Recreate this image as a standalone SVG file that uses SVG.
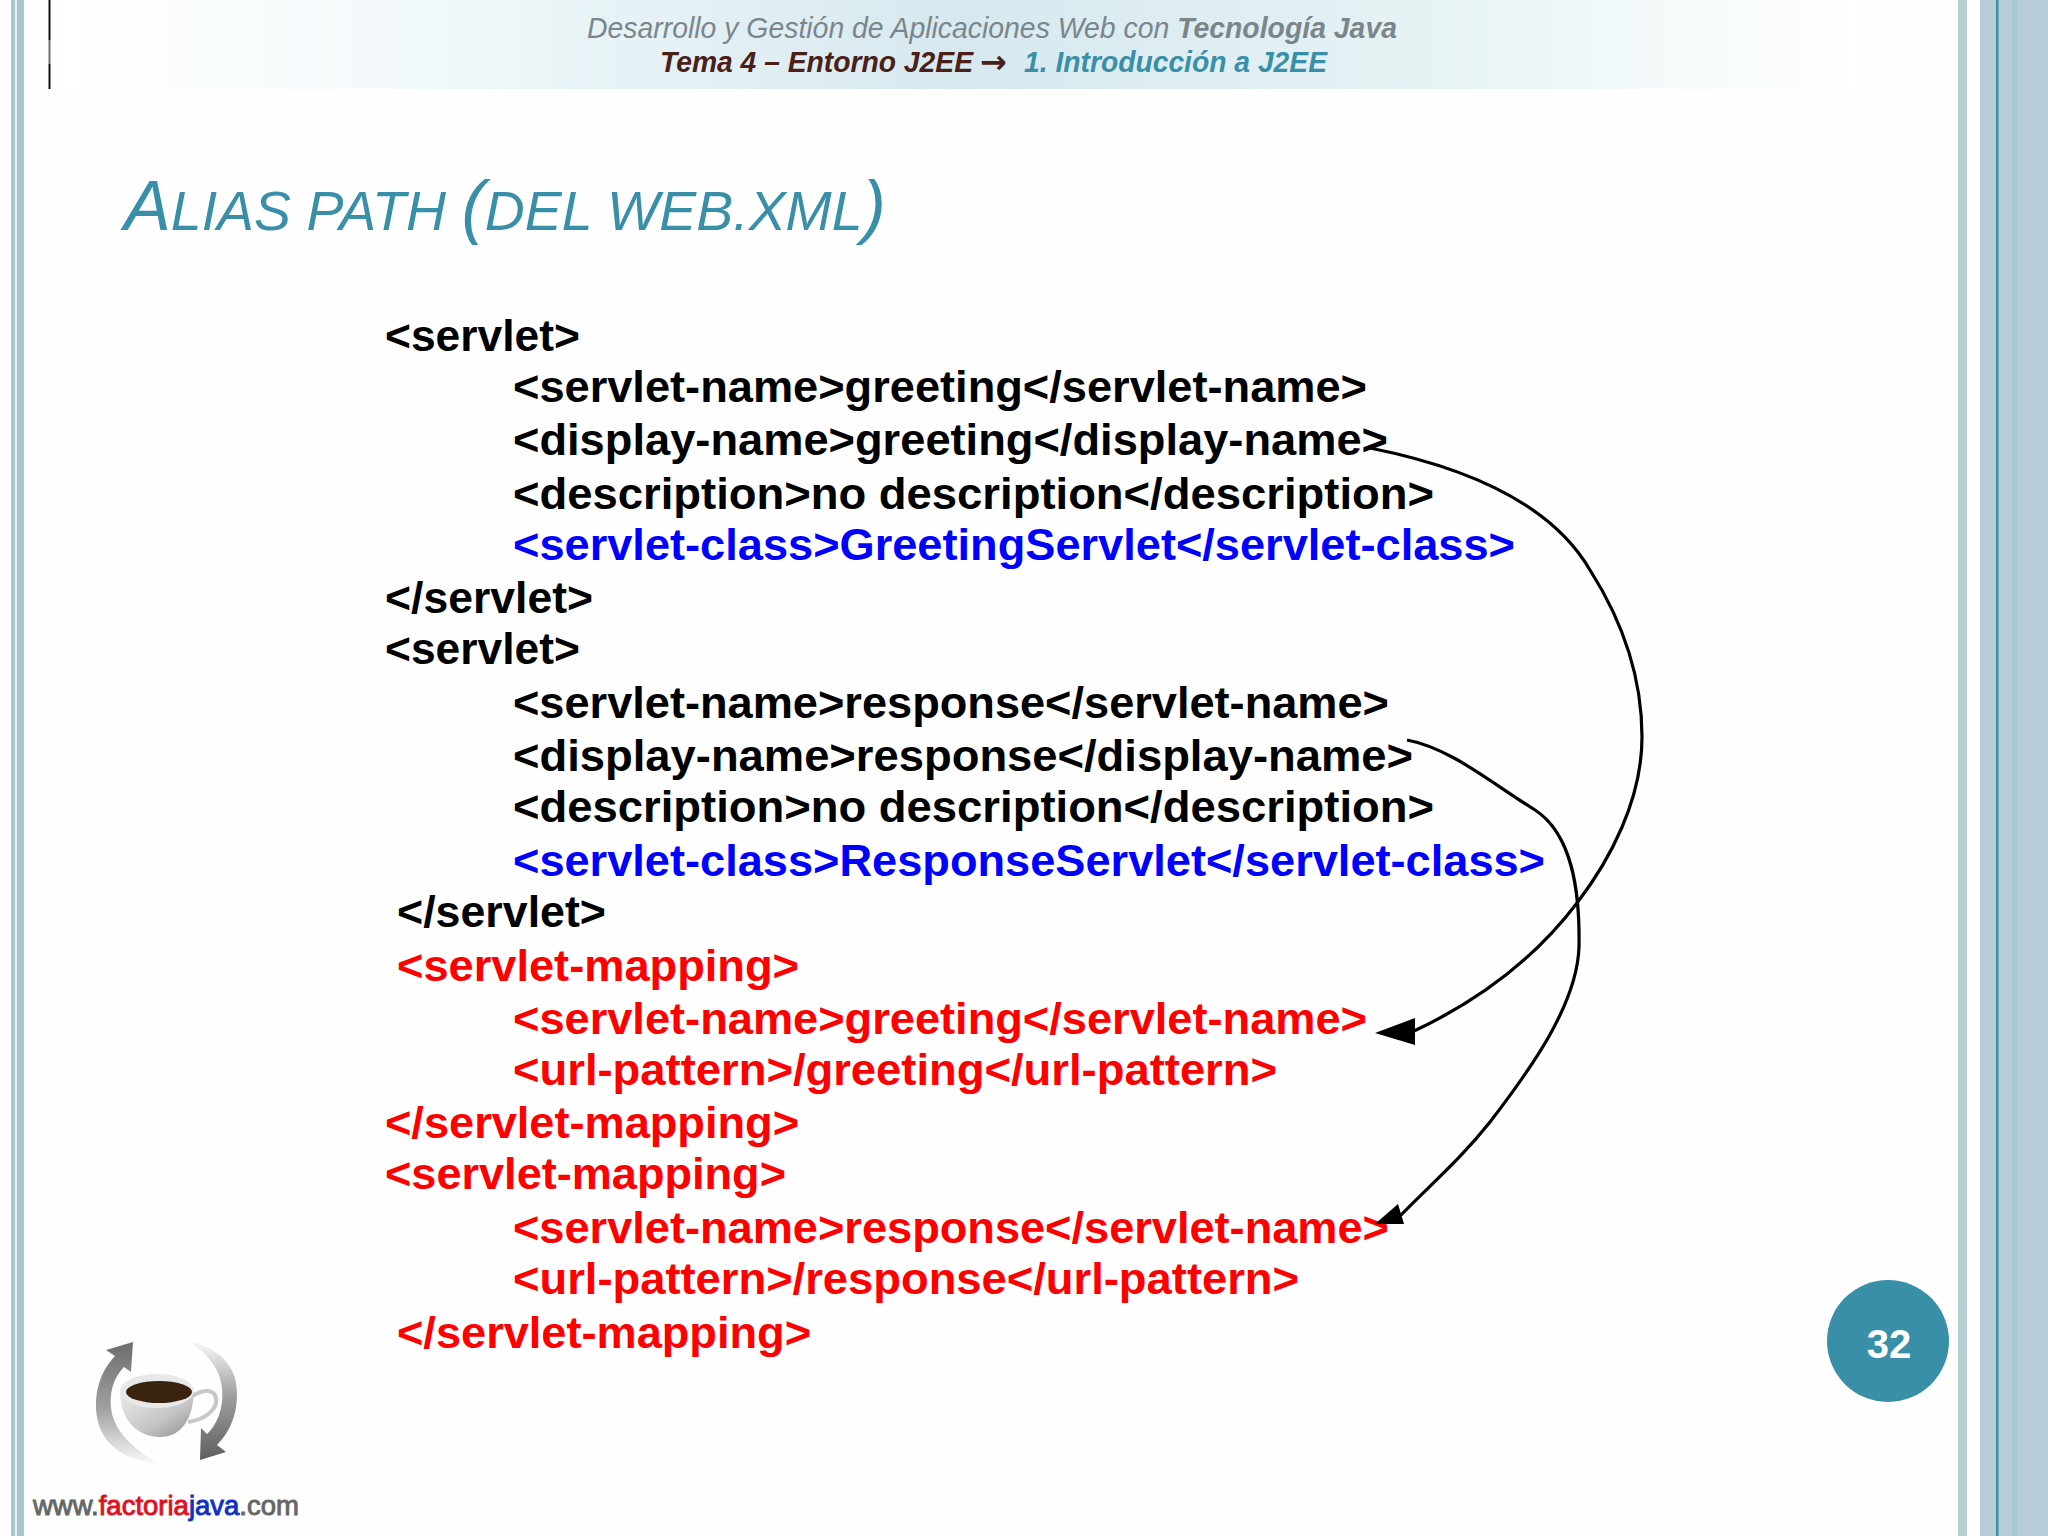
<svg xmlns="http://www.w3.org/2000/svg" width="2048" height="1536" viewBox="0 0 2048 1536">
<style>
.c{font-family:"Liberation Sans",Arial,sans-serif;font-weight:700;font-size:44px}
.k{fill:#000}.b{fill:#0000ff}.r{fill:#ff0000}
.h{font-family:"Liberation Sans",Arial,sans-serif;font-style:italic;font-size:29px}
.curve{fill:none;stroke:#000;stroke-width:3.200}
</style>
<defs>
<linearGradient id="hdr" x1="0" x2="1" y1="0" y2="0">
<stop offset="0" stop-color="#fff"/><stop offset="0.18" stop-color="#f3f9fb"/><stop offset="0.5" stop-color="#d6e9ef"/><stop offset="0.75" stop-color="#e6f2f4"/><stop offset="1" stop-color="#fff"/>
</linearGradient>
<linearGradient id="arrL" x1="0" x2="0" y1="0" y2="1"><stop offset="0" stop-color="#6d6d6d"/><stop offset="0.55" stop-color="#a0a0a0"/><stop offset="1" stop-color="#f8f8f8"/></linearGradient>
<linearGradient id="arrR" x1="0" x2="0" y1="1" y2="0"><stop offset="0" stop-color="#5f5f5f"/><stop offset="0.55" stop-color="#a0a0a0"/><stop offset="1" stop-color="#f8f8f8"/></linearGradient>
<linearGradient id="cup" x1="0" x2="1" y1="0" y2="1"><stop offset="0" stop-color="#ececec"/><stop offset="0.6" stop-color="#c4c4c4"/><stop offset="1" stop-color="#8c8c8c"/></linearGradient>
</defs>
<rect id="background" width="2048" height="1536" fill="#fefefe"/>
<g id="frame">
<rect x="11" y="0" width="4" height="1536" fill="#a9c6d0"/>
<rect x="15" y="0" width="2" height="1536" fill="#e6f0f2"/>
<rect x="17" y="0" width="7" height="1536" fill="#a9c6d0"/>
<rect x="1958" y="0" width="9" height="1536" fill="#b5cfd2"/>
<rect x="1980" y="0" width="68" height="1536" fill="#b7ccd7"/>
<rect x="1996" y="0" width="2.500" height="1536" fill="#3c8fa8"/>
<rect x="2012" y="0" width="5" height="1536" fill="#a6c8d0"/>
</g>
<g id="header">
<rect x="60" y="0" width="1800" height="89" fill="url(#hdr)"/>
<rect x="48.500" y="0" width="2" height="89" fill="#111"/>
<rect x="48" y="40" width="12" height="24" fill="#fff" opacity="0.4"/>
<text class="h" x="587" y="38" fill="#7b868c" textLength="810" lengthAdjust="spacingAndGlyphs">Desarrollo y Gestión de Aplicaciones Web con <tspan font-weight="700">Tecnología Java</tspan></text>
<text class="h" x="660" y="72" fill="#4a2018" font-weight="700" textLength="313" lengthAdjust="spacingAndGlyphs">Tema 4 – Entorno J2EE</text>
<text x="980" y="73" fill="#4a2018" font-family="'DejaVu Sans',sans-serif" font-size="32" font-weight="700">→</text>
<text class="h" x="1024" y="72" fill="#3a8fa8" font-weight="700" textLength="303" lengthAdjust="spacingAndGlyphs">1. Introducción a J2EE</text>
</g>
<text id="title" x="124" y="230" fill="#3a8fa8" font-family="'Liberation Sans',Arial,sans-serif" font-style="italic" font-size="56" textLength="762" lengthAdjust="spacingAndGlyphs"><tspan font-size="71">A</tspan>LIAS PATH <tspan font-size="71">(</tspan>DEL WEB.XML<tspan font-size="71">)</tspan></text>
<g id="code">
<text class="c k" x="385" y="351" textLength="195" lengthAdjust="spacingAndGlyphs">&lt;servlet&gt;</text>
<text class="c k" x="513" y="402" textLength="854" lengthAdjust="spacingAndGlyphs">&lt;servlet-name&gt;greeting&lt;/servlet-name&gt;</text>
<text class="c k" x="513" y="455" textLength="875" lengthAdjust="spacingAndGlyphs">&lt;display-name&gt;greeting&lt;/display-name&gt;</text>
<text class="c k" x="513" y="509" textLength="921" lengthAdjust="spacingAndGlyphs">&lt;description&gt;no description&lt;/description&gt;</text>
<text class="c b" x="513" y="560" textLength="1002" lengthAdjust="spacingAndGlyphs">&lt;servlet-class&gt;GreetingServlet&lt;/servlet-class&gt;</text>
<text class="c k" x="385" y="613" textLength="208" lengthAdjust="spacingAndGlyphs">&lt;/servlet&gt;</text>
<text class="c k" x="385" y="664" textLength="195" lengthAdjust="spacingAndGlyphs">&lt;servlet&gt;</text>
<text class="c k" x="513" y="718" textLength="876" lengthAdjust="spacingAndGlyphs">&lt;servlet-name&gt;response&lt;/servlet-name&gt;</text>
<text class="c k" x="513" y="771" textLength="900" lengthAdjust="spacingAndGlyphs">&lt;display-name&gt;response&lt;/display-name&gt;</text>
<text class="c k" x="513" y="822" textLength="921" lengthAdjust="spacingAndGlyphs">&lt;description&gt;no description&lt;/description&gt;</text>
<text class="c b" x="513" y="876" textLength="1032" lengthAdjust="spacingAndGlyphs">&lt;servlet-class&gt;ResponseServlet&lt;/servlet-class&gt;</text>
<text class="c k" x="397" y="927" textLength="209" lengthAdjust="spacingAndGlyphs">&lt;/servlet&gt;</text>
<text class="c r" x="397" y="981" textLength="402" lengthAdjust="spacingAndGlyphs">&lt;servlet-mapping&gt;</text>
<text class="c r" x="513" y="1034" textLength="854" lengthAdjust="spacingAndGlyphs">&lt;servlet-name&gt;greeting&lt;/servlet-name&gt;</text>
<text class="c r" x="513" y="1085" textLength="764" lengthAdjust="spacingAndGlyphs">&lt;url-pattern&gt;/greeting&lt;/url-pattern&gt;</text>
<text class="c r" x="385" y="1138" textLength="414" lengthAdjust="spacingAndGlyphs">&lt;/servlet-mapping&gt;</text>
<text class="c r" x="385" y="1189" textLength="401" lengthAdjust="spacingAndGlyphs">&lt;servlet-mapping&gt;</text>
<text class="c r" x="513" y="1243" textLength="876" lengthAdjust="spacingAndGlyphs">&lt;servlet-name&gt;response&lt;/servlet-name&gt;</text>
<text class="c r" x="513" y="1294" textLength="786" lengthAdjust="spacingAndGlyphs">&lt;url-pattern&gt;/response&lt;/url-pattern&gt;</text>
<text class="c r" x="397" y="1348" textLength="414" lengthAdjust="spacingAndGlyphs">&lt;/servlet-mapping&gt;</text>
</g>
<g id="connectors">
<path class="curve" d="M1370 448C1480 470 1555 510 1590 570C1625 625 1642 680 1642 737C1642 800 1610 860 1577 903C1530 965 1470 1005 1412 1032"/>
<polygon points="1375,1033 1415,1018 1415,1045" fill="#000"/>
<path class="curve" d="M1407 740C1450 748 1490 782 1535 810C1572 834 1580 890 1579 947C1577 1005 1530 1070 1490 1122C1460 1160 1430 1185 1400 1216"/>
<polygon points="1375,1224 1398,1204 1404,1224" fill="#000"/>
</g>
<g id="page-number">
<circle cx="1888" cy="1341" r="61" fill="#3a8fa8"/>
<text x="1889" y="1358" text-anchor="middle" fill="#fff" font-family="'Liberation Sans',Arial,sans-serif" font-weight="700" font-size="40">32</text>
</g>
<g id="logo">
<path d="M133 1342L106 1350L115 1356C97 1375 93 1400 98 1422C104 1446 128 1462 158 1463C138 1452 118 1436 112 1414C108 1395 113 1378 124 1367L131 1372Z" fill="url(#arrL)"/>
<path d="M200 1460L226 1452L217 1445C236 1426 240 1400 235 1378C229 1358 210 1345 190 1342C205 1352 220 1367 222 1388C224 1408 217 1425 207 1434L201 1428Z" fill="url(#arrR)"/>
<path d="M120 1392C120 1420 138 1437 160 1437C182 1437 193 1418 194 1392Z" fill="url(#cup)"/>
<path d="M192 1396C202 1390 214 1388 216 1398C218 1410 204 1420 188 1422" fill="none" stroke="#c8c8c8" stroke-width="4"/>
<ellipse cx="157" cy="1391" rx="37" ry="17" fill="#e8e8e8"/>
<ellipse cx="159" cy="1392" rx="33" ry="11" fill="#3a2410"/>
<text x="33" y="1515" font-family="'Liberation Sans',Arial,sans-serif" font-size="27" stroke-width="0.900" textLength="266" lengthAdjust="spacingAndGlyphs" fill="#666" stroke="#666"><tspan>www.</tspan><tspan fill="#e01020" stroke="#e01020">factoria</tspan><tspan fill="#1030c0" stroke="#1030c0">java</tspan><tspan>.com</tspan></text>
</g>
</svg>
